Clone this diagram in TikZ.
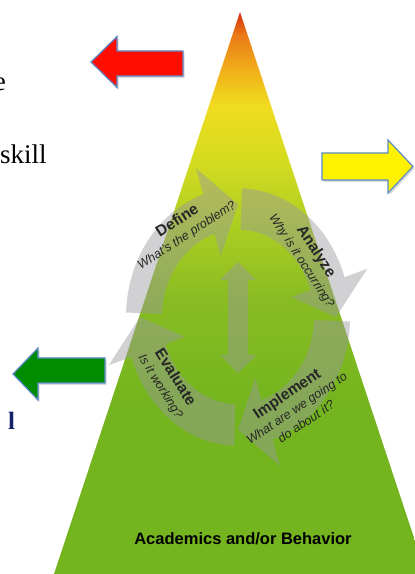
\documentclass[tikz,border=0pt]{standalone}
\usepackage{fontspec}
\setmainfont{Liberation Serif}
\setsansfont{Liberation Sans}
\usetikzlibrary{shadows}
\definecolor{arrowblue}{HTML}{5B8BC9}
\definecolor{ringgray}{HTML}{9A98A0}
\definecolor{txtnavy}{HTML}{14206A}
\definecolor{pyrred}{HTML}{D42A0C}
\definecolor{pyrorange}{HTML}{EA7A16}
\definecolor{pyramber}{HTML}{F0B01A}
\definecolor{pyryellow}{HTML}{F0DC20}
\definecolor{pyrlime}{HTML}{D4DC20}
\definecolor{pyrleaf}{HTML}{B0CF22}
\definecolor{pyrgrass}{HTML}{88BC22}
\definecolor{pyrgreen}{HTML}{74B41E}
\pgfdeclareverticalshading{pyramid}{100bp}{color(0bp)=(pyrgreen); color(25bp)=(pyrgreen);
  color(40bp)=(pyrgreen); color(49.4bp)=(pyrgrass); color(56.5bp)=(pyrleaf);
  color(61.8bp)=(pyrlime); color(66.7bp)=(pyryellow); color(69.8bp)=(pyramber);
  color(73bp)=(pyrorange); color(75bp)=(pyrred); color(100bp)=(pyrred)}
\newcommand\steptitle[1]{{\bfseries\fontsize{15.5}{15}\selectfont #1}}
\newcommand\stepquest[1]{{\itshape\fontsize{12.5}{14}\selectfont #1}}

\begin{document}
\begin{tikzpicture}[x=1pt,y=1pt,
    blockarrow/.style={draw=arrowblue,line width=1.2pt,
      drop shadow={shadow xshift=1.5pt,shadow yshift=-2pt,opacity=.3}},
    ringarrow/.style={fill=ringgray,fill opacity=.45},
    cycletext/.style={align=center,text=black!85,inner sep=0pt,
      font=\sffamily\fontsize{12.5}{16.5}\selectfont}]

  \useasboundingbox (0,0) rectangle (415,574);
  \shade[shading=pyramid] (54,0) -- (240,562) -- (426,0) -- cycle;

  % the four cycle arrows
  \begin{scope}[shift={(238,257)},yscale=1.15]
    \foreach \h [evaluate=\h as \t using \h+70, evaluate=\h as \p using \h-18]
        in {108,18,-72,-162}
      \fill[ringarrow] (\t:112) arc[start angle=\t,end angle=\h,radius=112]
        -- (\h:136) -- (\p:98) -- (\h:56) -- (\h:76)
        arc[start angle=\h,end angle=\t,radius=76] -- cycle;
  \end{scope}
  \fill[ringarrow] (238,312) -- (256,294) -- (248,294) -- (248,219) -- (256,219)
    -- (238,201) -- (220,219) -- (228,219) -- (228,294) -- (220,294) -- cycle;

  \node[cycletext,rotate=33] (define) at (182,346)
    {\steptitle{Define}\\\stepquest{What's the problem?}};
  \node[cycletext,rotate=-57] (analyze) at (309,318)
    {\steptitle{Analyze}\\\stepquest{Why is it occurring?}};
  \node[cycletext,rotate=34] (implement) at (296,167)
    {\steptitle{Implement}\\\stepquest{What are we going to}\\\stepquest{do about it?}};
  \node[cycletext,rotate=-58] (evaluate) at (168,192)
    {\steptitle{Evaluate}\\\stepquest{Is it working?}};

  \node[font=\sffamily\bfseries\fontsize{16.5}{18}\selectfont] (behavior) at (243,35)
    {Academics and/or Behavior};

  % block arrows
  \fill[red!90!orange,blockarrow] (91,512) -- (117,537.5) -- (117,523) -- (183,523)
    -- (183,498) -- (117,498) -- (117,486.5) -- cycle;
  \fill[yellow,blockarrow] (322,421) -- (388,421) -- (388,434) -- (413,407.5)
    -- (388,381) -- (388,394) -- (322,394) -- cycle;
  \fill[green!55!black,blockarrow] (13,200) -- (38,226) -- (38,216) -- (105,216)
    -- (105,191) -- (38,191) -- (38,174) -- cycle;

  \node[anchor=base east,inner sep=0pt,font=\fontsize{27}{30}\selectfont] (wordend) at (6,483) {e};
  \node[anchor=base west,inner sep=0pt,font=\fontsize{27}{30}\selectfont] (skill) at (0,410) {skill};
  \node[anchor=base west,inner sep=0pt,text=txtnavy,font=\bfseries\fontsize{25}{28}\selectfont] (stub) at (8,144) {l};
\end{tikzpicture}
\end{document}
